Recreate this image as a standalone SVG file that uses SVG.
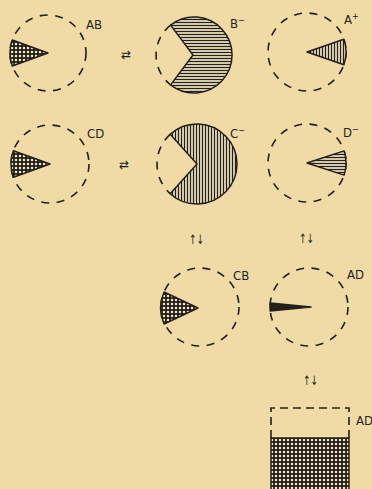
<svg xmlns="http://www.w3.org/2000/svg" width="372" height="489" viewBox="0 0 372 489">
<style>
.bg{fill:#F0DBA6}
.dash{fill:none;stroke:#231f1a;stroke-width:1.6;stroke-dasharray:8 7.5}
.shape{stroke:#231f1a;stroke-width:1.5;stroke-linejoin:round}
.lbl{font-family:"Liberation Sans Narrow","DejaVu Sans Condensed","Liberation Sans",sans-serif;font-size:13px;fill:#231f1a}
.sup{font-size:9px}
.arr{font-family:"DejaVu Sans","Liberation Sans",sans-serif;font-size:13px;fill:#231f1a}
</style>
<defs>
<pattern id="hh" width="4" height="3" patternUnits="userSpaceOnUse">
<rect width="4" height="3" fill="#F3E6C4"/>
<line x1="0" y1="1.5" x2="4" y2="1.5" stroke="#231f1a" stroke-width="1.3"/>
</pattern>
<pattern id="vh" width="3" height="4" patternUnits="userSpaceOnUse">
<rect width="3" height="4" fill="#F3E6C4"/>
<line x1="1.5" y1="0" x2="1.5" y2="4" stroke="#231f1a" stroke-width="1.3"/>
</pattern>
<pattern id="xh" width="4" height="4" patternUnits="userSpaceOnUse">
<rect width="4" height="4" fill="#F3E6C4"/>
<line x1="0" y1="2" x2="4" y2="2" stroke="#231f1a" stroke-width="1.8"/>
<line x1="2" y1="0" x2="2" y2="4" stroke="#231f1a" stroke-width="1.8"/>
</pattern>
</defs>
<rect class="bg" width="372" height="489"/>

<g id="AB">
<circle class="dash" cx="48" cy="53" r="38"/>
<path class="shape" fill="url(#xh)" d="M48,53 L12.3,40 A38,38 0 0 0 12.3,66 Z"/>
<text class="lbl" x="86" y="29">AB</text>
</g>

<g id="Bminus">
<path class="dash" d="M170.6,25.1 A38,38 0 0 0 170.6,84.9"/>
<path class="shape" fill="url(#hh)" d="M193,55 L170.6,25.1 A38,38 0 1 1 170.6,84.9 Z"/>
<text class="lbl" x="230" y="28">B<tspan class="sup" dy="-5">−</tspan></text>
</g>

<g id="Aplus">
<circle class="dash" cx="307" cy="52" r="39"/>
<path class="shape" fill="url(#vh)" d="M307,52 L343.9,39.3 A39,39 0 0 1 343.9,64.7 Z"/>
<text class="lbl" x="344" y="24">A<tspan class="sup" dy="-5">+</tspan></text>
</g>

<g id="CD">
<circle class="dash" cx="50" cy="164" r="39"/>
<path class="shape" fill="url(#xh)" d="M50,164 L13.4,150.7 A39,39 0 0 0 13.4,177.3 Z"/>
<text class="lbl" x="87" y="138">CD</text>
</g>

<g id="Cminus">
<path class="dash" d="M170.2,134.3 A40,40 0 0 0 170.2,193.7"/>
<path class="shape" fill="url(#vh)" d="M197,164 L170.2,134.3 A40,40 0 1 1 170.2,193.7 Z"/>
<text class="lbl" x="230" y="138">C<tspan class="sup" dy="-5">−</tspan></text>
</g>

<g id="Dminus">
<circle class="dash" cx="307" cy="163" r="39"/>
<path class="shape" fill="url(#hh)" d="M307,163 L344.1,150.9 A39,39 0 0 1 344.1,175.1 Z"/>
<text class="lbl" x="343" y="137">D<tspan class="sup" dy="-5">−</tspan></text>
</g>

<g id="CB">
<circle class="dash" cx="200" cy="307" r="39"/>
<path class="shape" fill="url(#xh)" d="M198,308 L164.1,292 A39,39 0 0 0 164.1,324 Z"/>
<text class="lbl" x="233" y="280">CB</text>
</g>

<g id="AD">
<circle class="dash" cx="309" cy="307" r="39"/>
<path class="shape" fill="#231f1a" d="M311,307 L270.2,303 A39,39 0 0 0 270.2,311 Z"/>
<text class="lbl" x="347" y="279">AD</text>
</g>

<g id="ADrect">
<path fill="none" stroke="#231f1a" stroke-width="1.6" stroke-dasharray="8 5" d="M271,438 L271,408 L349,408 L349,438"/>
<rect class="shape" fill="url(#xh)" x="271" y="438" width="78" height="55"/>
<text class="lbl" x="356" y="425">AD</text>
</g>

<g id="connectors">
<text class="arr" x="121" y="59" textLength="10" lengthAdjust="spacingAndGlyphs">⇄</text>
<text class="arr" x="119" y="169" textLength="10" lengthAdjust="spacingAndGlyphs">⇄</text>
<text class="arr" x="189" y="244" textLength="15" lengthAdjust="spacingAndGlyphs">↑↓</text>
<text class="arr" x="299" y="243" textLength="15" lengthAdjust="spacingAndGlyphs">↑↓</text>
<text class="arr" x="303" y="385" textLength="15" lengthAdjust="spacingAndGlyphs">↑↓</text>
</g>
</svg>
